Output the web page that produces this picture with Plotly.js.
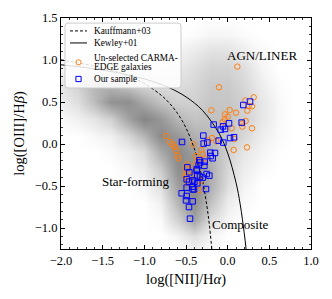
<!DOCTYPE html>
<html>
<head>
<meta charset="utf-8">
<script src="https://cdn.plot.ly/plotly-3.0.1.min.js"></script>
<style>html,body{margin:0;padding:0;background:#fff;}#chart{width:332px;height:299px;}</style>
</head>
<body>
<div id="chart"></div>
<script>
// Background density (SDSS-like galaxy cloud) on a coarse grid
var densX = [-2.0,-1.8,-1.6,-1.4,-1.2,-1.0,-0.8,-0.6,-0.4,-0.2,0.0,0.2,0.4,0.6,0.8,1.0];
var densY = [-1.3,-1.1,-0.9,-0.7,-0.5,-0.3,-0.1,0.1,0.3,0.5,0.7,0.9,1.1,1.3,1.5];
var densZ = [
  [0,0,0,0,0,0,0,0.2,0.5,0.2,0,0,0,0,0,0],
  [0,0,0,0,0,0,0,0.6,2,0.6,0,0,0,0,0,0],
  [0,0,0,0,0,0,0.3,3,6.5,2,0.5,0,0,0,0,0],
  [0,0,0,0,0,0,0.8,5,8.5,4,1,0.3,0,0,0,0],
  [0,0,0,0,0,0.5,2,7,9,5.5,2,0.6,0,0,0,0],
  [0,0,0,0,0.4,1,3.5,8.5,8.5,5.5,2.5,1,0.3,0,0,0],
  [0,0,0,0.3,0.8,2,6,9,7,5,3,1.5,0.6,0.1,0,0],
  [0,0,0.4,0.8,2.5,5,9,7.5,5.5,4.5,3.8,2.5,1,0.3,0,0],
  [0.3,0.8,1.5,3,6.5,9.5,7.5,5,4,4.2,4.2,3,1.5,0.4,0,0],
  [1,2,4.5,8,8.5,6,4,3,3,3.8,3.8,3,1.5,0.4,0,0],
  [1.5,3,5,5,3.5,2.5,2,2,2.5,3.5,3.5,2.5,1,0.2,0,0],
  [0.5,1,1.2,1,1,1,1,1.3,2,2.8,2.8,2,0.6,0,0,0],
  [0,0,0,0,0,0,0.3,0.6,1.2,1.8,1.8,1,0.3,0,0,0],
  [0,0,0,0,0,0,0,0,0.2,0.5,0.5,0.2,0,0,0,0],
  [0,0,0,0,0,0,0,0,0,0,0,0,0,0,0,0]
];

// Demarcation curves
var kaufX = [-2.0,-1.5,-1.2,-1.0,-0.8,-0.7,-0.6,-0.5,-0.4,-0.35,-0.3,-0.25,-0.22,-0.19,-0.187];
var kaufY = [1.002,0.906,0.812,0.719,0.582,0.487,0.362,0.191,-0.056,-0.225,-0.443,-0.733,-0.959,-1.242,-1.26];
var kewX = [-2.0,-1.5,-1.0,-0.7,-0.5,-0.3,-0.1,0.0,0.1,0.15,0.2,0.222];
var kewY = [0.943,0.880,0.775,0.669,0.561,0.398,0.120,-0.108,-0.459,-0.716,-1.069,-1.26];

// Un-selected CARMA-EDGE galaxies
var unselX = [0.116,-0.104,0.312,0.212,0.252,0.292,0.236,-0.196,0.100,0.024,-0.032,0.000,-0.036,-0.060,0.216,0.176,0.176,0.292,0.048,0.080,-0.188,-0.232,-0.136,-0.412,-0.316,0.072,0.232,-0.740,-0.692,-0.664,-0.632,-0.620,-0.600,-0.590,-0.380,-0.364,-0.492,-0.500,-0.492,-0.512,-0.420,-0.340,-0.332,-0.300,-0.270,-0.480,-0.400];
var unselY = [0.921,0.675,0.556,0.517,0.452,0.449,0.397,0.401,0.373,0.405,0.353,0.326,0.294,0.262,0.274,0.246,0.207,0.187,0.187,0.060,0.071,0.044,0.032,-0.004,-0.071,-0.071,-0.040,0.095,0.024,-0.004,-0.036,-0.075,-0.140,-0.170,-0.143,-0.190,-0.242,-0.293,-0.340,-0.381,-0.373,-0.548,-0.440,-0.120,-0.170,-0.460,-0.260];

// Our sample
var sampX = [-0.548,-0.292,-0.288,-0.244,-0.168,-0.056,0.016,-0.084,-0.032,0.168,0.188,0.268,-0.108,-0.052,0.028,0.076,-0.208,-0.152,-0.204,-0.180,-0.340,-0.276,-0.348,-0.280,-0.484,-0.460,-0.372,-0.364,-0.332,-0.252,-0.220,-0.300,-0.492,-0.420,-0.400,-0.464,-0.364,-0.420,-0.404,-0.492,-0.260,-0.552,-0.492,-0.500,-0.420,-0.464,-0.452,-0.420,-0.330,-0.370];
var sampY = [0.024,0.100,0.005,0.017,0.231,0.210,0.246,0.171,0.179,0.255,0.464,0.505,0.040,0.017,0.071,0.080,-0.103,-0.107,-0.143,-0.170,-0.194,-0.210,-0.250,-0.260,-0.278,-0.337,-0.317,-0.373,-0.389,-0.357,-0.377,-0.400,-0.420,-0.433,-0.450,-0.448,-0.468,-0.508,-0.540,-0.520,-0.536,-0.587,-0.619,-0.671,-0.683,-0.750,-0.889,-0.540,-0.220,-0.300];

// Legend labels
var legendLabels = ['Kauffmann+03', 'Kewley+01', 'Un-selected CARMA-', 'EDGE galaxies', 'Our sample'];
var regionLabels = ['AGN/LINER', 'Star-forming', 'Composite'];

var FONT = 'Liberation Serif, Times New Roman, serif';
var ORANGE = '#ff7f0e', BLUE = '#0000ff';

var traces = [
  {type:'heatmap', x:densX, y:densY, z:densZ, zsmooth:'best', showscale:false, showlegend:false, hoverinfo:'skip',
   zmin:0, zmax:10,
   colorscale:[[0,'rgb(255,255,255)'],[0.08,'rgb(240,240,240)'],[0.25,'rgb(215,215,215)'],[0.5,'rgb(182,182,182)'],[0.75,'rgb(152,152,152)'],[1,'rgb(128,128,128)']]},
  {type:'scatter', mode:'lines', x:kaufX, y:kaufY, name:legendLabels[0], line:{color:'black', width:1, dash:'3px,2px', shape:'spline'}},
  {type:'scatter', mode:'lines', x:kewX, y:kewY, name:legendLabels[1], line:{color:'black', width:1, shape:'spline'}},
  {type:'scatter', mode:'markers', x:unselX, y:unselY, name:legendLabels[2]+legendLabels[3],
   marker:{symbol:'circle-open', size:5.5, color:ORANGE, line:{width:1, color:ORANGE}}},
  {type:'scatter', mode:'markers', x:sampX, y:sampY, name:legendLabels[4],
   marker:{symbol:'square-open', size:5.5, color:BLUE, line:{width:1, color:BLUE}}}
];

var axisCommon = {
  showline:true, linecolor:'black', linewidth:1, mirror:'allticks',
  ticks:'inside', ticklen:4, tickwidth:1, tickcolor:'black',
  showgrid:false, zeroline:false, tickformat:'.1f',
  tickfont:{family:FONT, size:12.5, color:'black'},
  minor:{ticks:'inside', ticklen:2, tickwidth:0.8, tickcolor:'black', dtick:0.1, showgrid:false}
};

// custom legend box geometry (paper coords)
var bx0 = 0.016, bx1 = 0.48, by0 = 0.697, by1 = 0.978, rx = 0.012, ry = 0.013;
var boxPath = 'M '+(bx0+rx)+','+by1+' L '+(bx1-rx)+','+by1+' Q '+bx1+','+by1+' '+bx1+','+(by1-ry)+
  ' L '+bx1+','+(by0+ry)+' Q '+bx1+','+by0+' '+(bx1-rx)+','+by0+' L '+(bx0+rx)+','+by0+
  ' Q '+bx0+','+by0+' '+bx0+','+(by0+ry)+' L '+bx0+','+(by1-ry)+' Q '+bx0+','+by1+' '+(bx0+rx)+','+by1+' Z';

var rowY = [0.944, 0.892, 0.829, 0.790, 0.736];
var symX = 0.07, symY = 0.808;
var textX = 0.128;

var shapes = [
  {type:'path', xref:'paper', yref:'paper', path:boxPath, fillcolor:'rgba(255,255,255,0.85)', line:{color:'#cccccc', width:1}, layer:'above'},
  {type:'line', xref:'paper', yref:'paper', x0:0.036, x1:0.104, y0:rowY[0], y1:rowY[0], line:{color:'black', width:1, dash:'3px,2px'}, layer:'above'},
  {type:'line', xref:'paper', yref:'paper', x0:0.036, x1:0.104, y0:rowY[1], y1:rowY[1], line:{color:'black', width:1}, layer:'above'},
  {type:'circle', xref:'paper', yref:'paper', xsizemode:'pixel', ysizemode:'pixel', xanchor:symX, yanchor:symY,
   x0:-2.6, x1:2.6, y0:-2.6, y1:2.6, line:{color:ORANGE, width:1}, fillcolor:'rgba(0,0,0,0)', layer:'above'},
  {type:'rect', xref:'paper', yref:'paper', xsizemode:'pixel', ysizemode:'pixel', xanchor:symX, yanchor:rowY[4],
   x0:-2.6, x1:2.6, y0:-2.6, y1:2.6, line:{color:BLUE, width:1}, fillcolor:'rgba(0,0,0,0)', layer:'above'}
];

var annotations = [];
for (var i = 0; i < legendLabels.length; i++) {
  annotations.push({xref:'paper', yref:'paper', x:textX, y:rowY[i], xanchor:'left', yanchor:'middle', align:'left',
    text:legendLabels[i], showarrow:false, borderpad:0, font:{family:FONT, size:9.3, color:'black'}});
}
annotations.push({x:0.41, y:1.05, xref:'x', yref:'y', text:regionLabels[0], showarrow:false, font:{family:FONT, size:13, color:'black'}});
annotations.push({x:-1.11, y:-0.45, xref:'x', yref:'y', text:regionLabels[1], showarrow:false, font:{family:FONT, size:13, color:'black'}});
annotations.push({x:0.15, y:-0.96, xref:'x', yref:'y', text:regionLabels[2], showarrow:false, font:{family:FONT, size:13, color:'black'}});

var layout = {
  width:332, height:299,
  margin:{l:61, r:21, t:18, b:50},
  paper_bgcolor:'white', plot_bgcolor:'white',
  font:{family:FONT, color:'black'},
  xaxis:Object.assign({}, axisCommon, {range:[-2,1], dtick:0.5, tick0:0,
    title:{text:'log([NII]/H<i>α</i>)', font:{family:FONT, size:14.5, color:'black'}, standoff:6}}),
  yaxis:Object.assign({}, axisCommon, {range:[-1.25,1.5], dtick:0.5, tick0:0,
    title:{text:'log([OIII]/H<i>β</i>)', font:{family:FONT, size:14.5, color:'black'}, standoff:6}}),
  showlegend:false,
  shapes:shapes,
  annotations:annotations
};

Plotly.newPlot('chart', traces, layout, {displayModeBar:false, staticPlot:true});
</script>
</body>
</html>
